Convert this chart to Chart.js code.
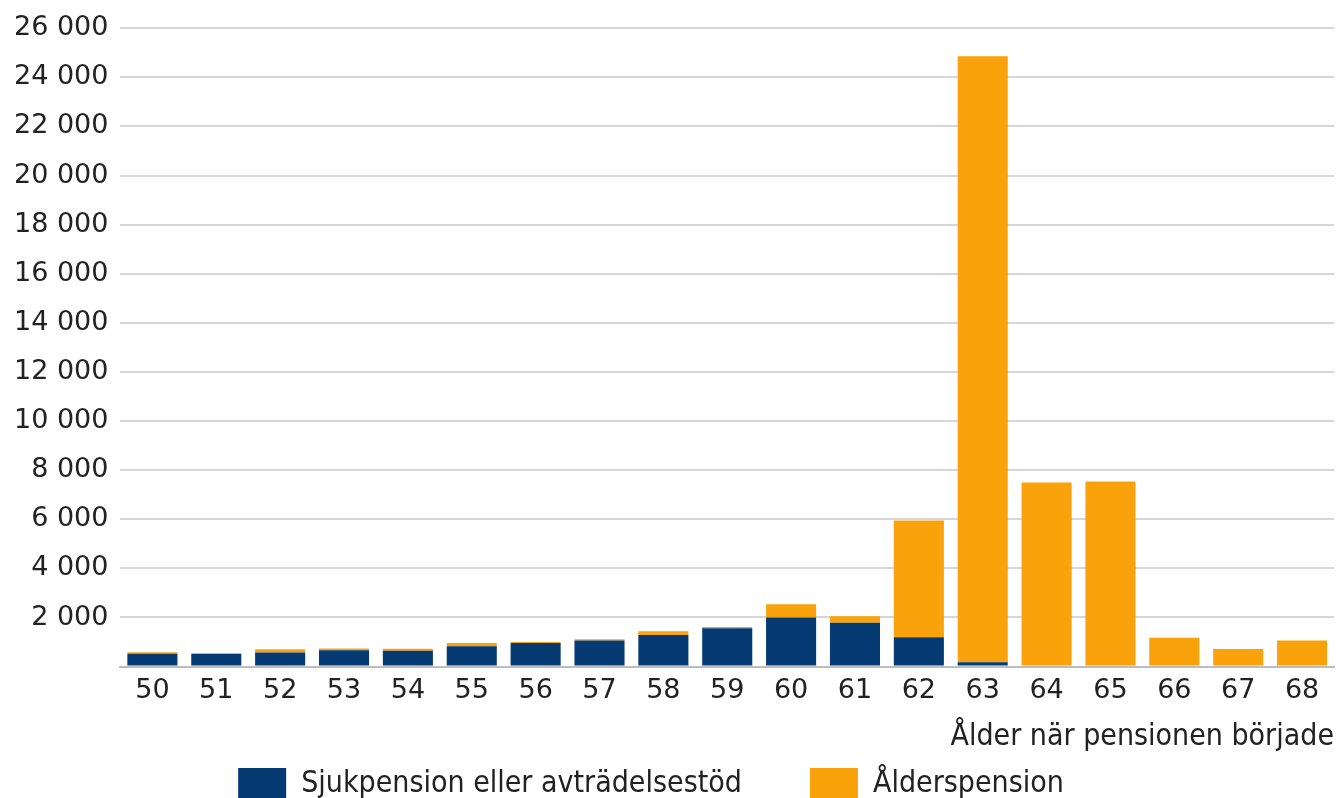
<!DOCTYPE html>
<html>
<head>
<meta charset="utf-8">
<script src="https://cdn.jsdelivr.net/npm/chart.js@4"></script>
<style>
  html, body { margin: 0; padding: 0; background: #fff; overflow: hidden; }
  #wrap { width: 1336px; height: 810px; position: relative; }
</style>
</head>
<body>
<div id="wrap"><canvas id="chart"></canvas></div>
<script>
// Age at pension start
const ages = ['50','51','52','53','54','55','56','57','58','59','60','61','62','63','64','65','66','67','68'];
// Sickness pension / early retirement
const sjukpension = [520, 520, 570, 665, 650, 830, 960, 1060, 1290, 1560, 2000, 1790, 1200, 175, 0, 0, 0, 0, 0];
// Old-age pension
const alderspension = [60, 10, 135, 70, 80, 135, 40, 50, 150, 50, 540, 260, 4750, 24680, 7500, 7540, 1170, 720, 1060];

const NAVY = '#063a72';
const ORANGE = '#f9a20c';
const FONT = 'DejaVu Sans';
const NARROW = '"DejaVu Sans Condensed", "Liberation Sans Narrow", "DejaVu Sans"';

// legend padding gives the wide gap between items, but pulls the legend
// too far from the axis title; take some of it back
const LEGEND_SHIFT = 57;
const LEGEND_LEFT = 17;

function fmt(v) {
  return String(v).replace(/\B(?=(\d{3})+(?!\d))/g, ' ');
}

const tightLegend = {
  id: 'tightLegend',
  afterInit(chart) {
    const lg = chart.legend;
    const fit = lg.fit.bind(lg);
    lg.fit = function () { fit(); this.height -= LEGEND_SHIFT; };
  },
  afterLayout(chart) {
    const lg = chart.legend;
    lg.top -= LEGEND_SHIFT;
    lg.left -= LEGEND_LEFT;
    lg.right -= LEGEND_LEFT;
  }
};

const ctx = document.getElementById('chart').getContext('2d');
new Chart(ctx, {
  type: 'bar',
  data: {
    labels: ages,
    datasets: [
      { label: 'Sjukpension eller avträdelsestöd', data: sjukpension, backgroundColor: NAVY },
      { label: 'Ålderspension', data: alderspension, backgroundColor: ORANGE }
    ]
  },
  plugins: [tightLegend],
  options: {
    responsive: true,
    maintainAspectRatio: false,
    animation: false,
    layout: { padding: { top: 22, right: 2, left: 2 } },
    datasets: { bar: { categoryPercentage: 0.8, barPercentage: 0.98 } },
    scales: {
      x: {
        stacked: true,
        grid: { display: false, drawTicks: false },
        border: { color: '#bdbdbd', width: 2 },
        ticks: { color: '#222', font: { family: FONT, size: 27 }, padding: 8 },
        title: {
          display: true, text: 'Ålder när pensionen började', align: 'end',
          color: '#222', font: { family: NARROW, size: 30 }, padding: { top: 4, bottom: 2 }
        }
      },
      y: {
        stacked: true,
        min: 0, max: 26000,
        grid: { color: '#d6d6d6', lineWidth: 2, drawTicks: false },
        border: { display: false },
        ticks: {
          stepSize: 2000,
          color: '#222',
          font: { family: FONT, size: 27 },
          padding: 12,
          callback: v => v === 0 ? '' : fmt(v)
        }
      }
    },
    plugins: {
      tooltip: { enabled: false },
      legend: {
        position: 'bottom',
        labels: {
          boxWidth: 48, boxHeight: 32, padding: 68,
          color: '#222', font: { family: NARROW, size: 30 }
        }
      }
    }
  }
});
</script>
</body>
</html>
